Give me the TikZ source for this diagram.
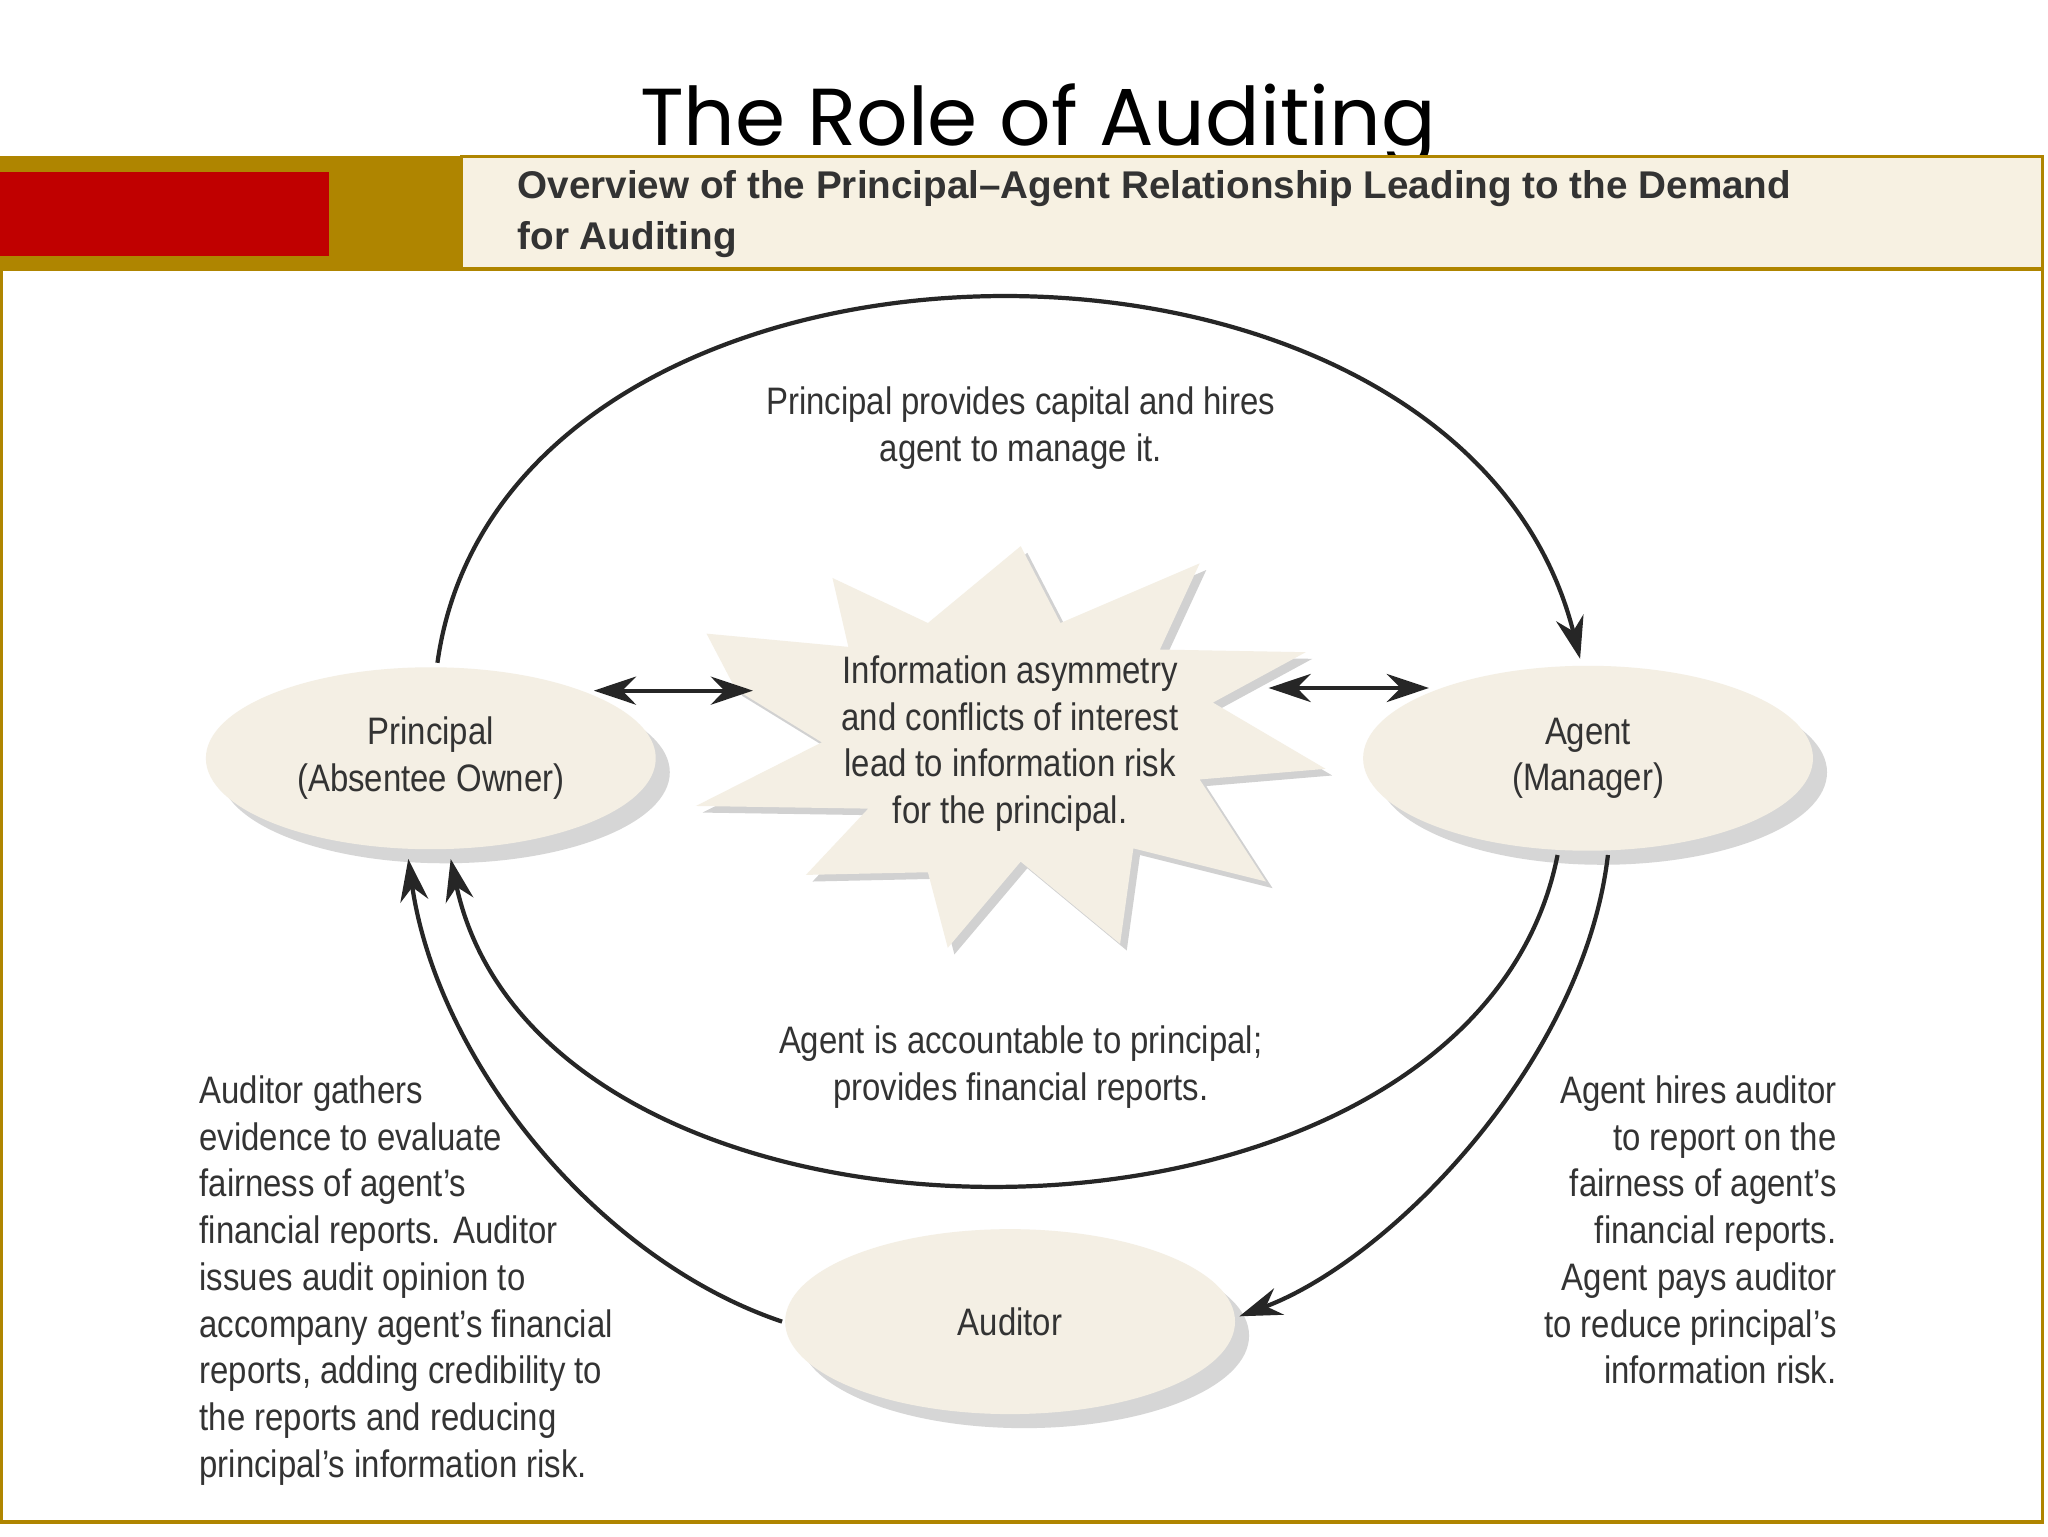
\documentclass[tikz,border=0pt]{standalone}
\usepackage{fontspec}
\setmainfont{Liberation Sans}[FakeStretch=0.86]
\newfontfamily\titlefont{Poppins}
\newfontfamily\headfont{Liberation Sans}
\usetikzlibrary{arrows.meta,shadows,shapes.geometric}
\definecolor{gold}{HTML}{AF8500}
\definecolor{redbar}{HTML}{C00000}
\definecolor{cream}{HTML}{F7F1E2}
\definecolor{ellfill}{HTML}{F4EFE4}
\definecolor{txt}{HTML}{333333}
\begin{document}
\begin{tikzpicture}[x=0.013256cm,y=-0.013256cm,
  ell/.style={draw=none,fill=ellfill,ellipse,drop shadow={shadow xshift=4pt,shadow yshift=-4pt,fill=black!20,opacity=0.8}},
  lbl/.style={text=txt,font=\fontsize{10.9}{13.3}\selectfont,align=center,inner sep=0pt},
  arr/.style={-{Stealth[length=12pt,width=8pt]},line width=1.2pt,draw=black!85},
  darr/.style={{Stealth[length=12pt,width=8pt]}-{Stealth[length=12pt,width=8pt]},line width=1.2pt,draw=black!85}]
\useasboundingbox (0,0) rectangle (1545,1159);
\fill[white] (0,0) rectangle (1545,1159);
\node[font=\titlefont\fontsize{23}{26}\selectfont,anchor=base,inner sep=0pt] (title) at (783,110) {The Role of Auditing};
% header
\fill[gold] (0,118) rectangle (348,203);
\fill[redbar] (0,130) rectangle (248,193);
\draw[gold,line width=1pt,fill=cream] (348,118) rectangle (1541,203);
\node[anchor=north west,align=left,text=txt,font=\headfont\bfseries\fontsize{11}{14.5}\selectfont,inner sep=0pt] (head) at (390,128)
 {Overview of the Principal–Agent Relationship Leading to the Demand\\for Auditing};
\draw[gold,line width=1pt] (1,203) rectangle (1541,1148);
% starburst
\fill[black!18,shift={(5,5)}]
 (533,478) -- (640,488) -- (628,436) -- (700,470) -- (770,412) -- (800,470) -- (905,425) -- (875,490) -- (985,492) -- (915,530) -- (1000,580) -- (905,588) -- (955,665) -- (855,640) -- (845,712) -- (770,650) -- (715,715) -- (700,658) -- (608,660) -- (655,610) -- (525,608) -- (620,560) -- (555,520) -- cycle;
\fill[ellfill]
 (533,478) -- (640,488) -- (628,436) -- (700,470) -- (770,412) -- (800,470) -- (905,425) -- (875,490) -- (985,492) -- (915,530) -- (1000,580) -- (905,588) -- (955,665) -- (855,640) -- (845,712) -- (770,650) -- (715,715) -- (700,658) -- (608,660) -- (655,610) -- (525,608) -- (620,560) -- (555,520) -- cycle;
% ellipses
\node[ell,minimum width=4.5cm,minimum height=1.82cm] (pr) at (325,572) {};
\node[ell,minimum width=4.5cm,minimum height=1.85cm] (ag) at (1198,572) {};
\node[ell,minimum width=4.5cm,minimum height=1.85cm] (au) at (762,997) {};
\node[lbl] (prt) at (325,572) {Principal\\(Absentee Owner)};
\node[lbl] (agt) at (1198,572) {Agent\\(Manager)};
\node[lbl] (aut) at (762,997) {Auditor};
\node[lbl] (star) at (762,561) {Information asymmetry\\and conflicts of interest\\lead to information risk\\for the principal.};
\node[lbl] (top) at (770,323) {Principal provides capital and hires\\agent to manage it.};
\node[lbl] (bot) at (770,805) {Agent is accountable to principal;\\provides financial reports.};
\node[lbl,align=left,anchor=north west] (left) at (150,811) {Auditor gathers\\evidence to evaluate\\fairness of agent’s\\financial reports. Auditor\\issues audit opinion to\\accompany agent’s financial\\reports, adding credibility to\\the reports and reducing\\principal’s information risk.};
\node[lbl,align=right,anchor=north east] (right) at (1386,811) {Agent hires auditor\\to report on the\\fairness of agent’s\\financial reports.\\Agent pays auditor\\to reduce principal’s\\information risk.};
% connectors
\coordinate (a1) at (330,500); \coordinate (a2) at (1192,497);
\draw[arr] (a1) .. controls (380,140) and (1100,130) .. (a2);
\coordinate (b1) at (1175,645); \coordinate (b2) at (340,648);
\draw[arr] (b1) .. controls (1110,975) and (410,975) .. (b2);
\coordinate (c1) at (1213,645); \coordinate (c2) at (935,993);
\draw[arr] (c1) .. controls (1195,800) and (1050,950) .. (c2);
\coordinate (d1) at (590,997); \coordinate (d2) at (308,648);
\draw[arr] (d1) .. controls (450,950) and (330,800) .. (d2);
\coordinate (e1) at (448,521); \coordinate (e2) at (568,521);
\draw[darr] (e1) -- (e2);
\coordinate (f1) at (957,519); \coordinate (f2) at (1078,519);
\draw[darr] (f1) -- (f2);
\end{tikzpicture}
\end{document}
